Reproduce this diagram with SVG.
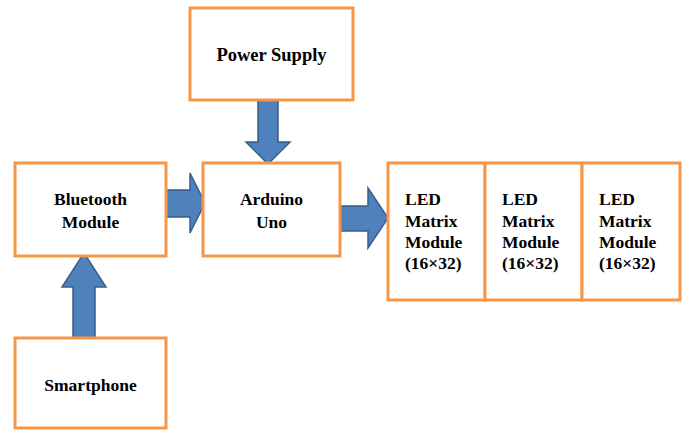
<svg xmlns="http://www.w3.org/2000/svg" width="686" height="431" viewBox="0 0 686 431">
<style>
.box{fill:#fff;stroke:#F79646;stroke-width:3}
text{font-family:'Liberation Serif','Times New Roman','DejaVu Serif',serif;font-weight:bold;font-size:17.5px;fill:#000}
.c{text-anchor:middle}
.arr{fill:#4F81BD;stroke:#385D8A;stroke-width:1.5;stroke-linejoin:miter}
</style>
<rect width="686" height="431" fill="#fff"/>
<g id="connectors">
<path class="arr" d="M258,100 L278,100 L278,142 L290,142 L268,164 L246,142 L258,142 Z"/>
<path class="arr" d="M166,190 L190,190 L190,173 L205,203 L190,233 L190,217 L166,217 Z"/>
<path class="arr" d="M340,206 L368,206 L368,188 L388,218 L368,248 L368,231 L340,231 Z"/>
<path class="arr" d="M73,338 L73,287 L62,287 L84,253 L106,287 L95,287 L95,338 Z"/>
</g>
<g id="power-supply">
<rect class="box" x="190" y="8" width="163" height="92"/>
<text class="c" x="271.5" y="61" style="font-size:18.5px">Power Supply</text>
</g>
<g id="bluetooth-module">
<rect class="box" x="15" y="163" width="151" height="93"/>
<text class="c" x="90.5" y="205">Bluetooth</text>
<text class="c" x="90.5" y="228">Module</text>
</g>
<g id="arduino-uno">
<rect class="box" x="203" y="163" width="137" height="93"/>
<text class="c" x="271.5" y="205">Arduino</text>
<text class="c" x="271.5" y="228">Uno</text>
</g>
<g id="smartphone">
<rect class="box" x="15" y="338" width="151" height="90"/>
<text class="c" x="90.5" y="391">Smartphone</text>
</g>
<g id="led-matrix-1">
<rect class="box" x="388" y="163" width="97" height="137"/>
<text x="405" y="205">LED</text>
<text x="405" y="227">Matrix</text>
<text x="405" y="248">Module</text>
<text x="405" y="269">(16×32)</text>
</g>
<g id="led-matrix-2">
<rect class="box" x="485" y="163" width="97" height="137"/>
<text x="502" y="205">LED</text>
<text x="502" y="227">Matrix</text>
<text x="502" y="248">Module</text>
<text x="502" y="269">(16×32)</text>
</g>
<g id="led-matrix-3">
<rect class="box" x="582" y="163" width="98" height="137"/>
<text x="599" y="205">LED</text>
<text x="599" y="227">Matrix</text>
<text x="599" y="248">Module</text>
<text x="599" y="269">(16×32)</text>
</g>
</svg>
